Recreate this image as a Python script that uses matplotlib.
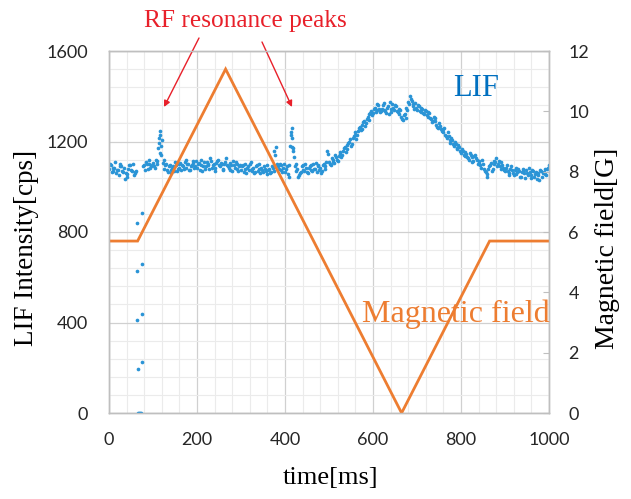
import numpy as np
import matplotlib
matplotlib.use("Agg")
import matplotlib.pyplot as plt
from matplotlib.ticker import MultipleLocator

nan = np.nan

# LIF intensity [cps], samples at 0, 4, 8 ... 1000 ms
lif_t = list(range(0, 1001, 4))
lif = [
    1080, 1095, 1070, 1085, 1060, 1075, 1100, 1090, 1065, 1035, 1055, 1080, 1095,
    1070, 1050, 1060, nan, nan, nan, nan, 1095, 1110, 1080, 1100, 1090,
    1105, 1085, 1115, 1170, 1245, 1205, 1120, 1095, 1075, 1090, 1060, 1085, 1070,
    1095, 1080, 1100, 1075, 1090, 1110, 1085, 1100, 1075, 1095, 1115, 1090,
    1085, 1105, 1095, 1070, 1110, 1090, 1100, 1080, 1115, 1095, 1085, 1105, 1120,
    1090, 1100, 1075, 1110, 1095, 1085, 1105, 1070, 1095, 1110, 1080, 1090,
    1075, 1095, 1080, 1060, 1090, 1100, 1070, 1085, 1065, 1095, 1080, 1060, 1075,
    1090, 1070, 1055, 1080, 1065, 1085, 1160, 1175, 1090, 1100, 1075, 1085,
    1065, 1090, 1045, 1180, 1260, 1130, 1100, 1080, 1050, 1065, 1095, 1070, 1085,
    1060, 1090, 1075, 1100, 1080, 1065, 1095, 1085, 1070, 1100, 1090, 1160,
    1110, 1095, 1120, 1105, 1130, 1115, 1145, 1130, 1160, 1175, 1165, 1195, 1210,
    1190, 1225, 1240, 1230, 1260, 1250, 1275, 1290, 1280, 1310, 1320, 1335,
    1325, 1350, 1340, 1360, 1330, 1345, 1370, 1335, 1350, 1320, 1345, 1365, 1340,
    1355, 1330, 1345, 1310, 1295, 1320, 1350, 1375, 1400, 1380, 1355, 1370,
    1340, 1355, 1330, 1345, 1320, 1335, 1310, 1325, 1300, 1290, 1305, 1275, 1260,
    1270, 1245, 1255, 1230, 1215, 1225, 1195, 1205, 1180, 1190, 1165, 1175,
    1150, 1160, 1135, 1145, 1125, 1150, 1130, 1115, 1140, 1120, 1105, 1095, 1120,
    1080, 1065, 1045, 1090, 1105, 1080, 1115, 1125, 1100, 1090, 1110, 1085,
    1070, 1095, 1060, 1080, 1075, 1050, 1085, 1065, 1070, 1045, 1080, 1060, 1075,
    1050, 1065, 1040, 1070, 1055, 1035, 1060, 1075, 1045, 1065, 1055, 1080, 1095,
]

# LIF intensity [cps], samples at 2, 6, 10 ... 998 ms
lif_t2 = list(range(2, 1000, 4))
lif2 = [
    1100, 1065, 1085, 1110, 1075, 1050, 1090, 1070, 1085, 1060, 1045, 1095, 1075,
    1100, 1065, 1070, nan, nan, nan, 1090, 1075, 1100, 1120, 1085, 1095,
    1090, 1120, 1100, 1215, 1180, 1105, 1080, 1100, 1065, 1095, 1075, 1090, 1110,
    1070, 1085, 1105, 1095, 1080, 1120, 1100, 1075, 1090, 1105, 1085, 1115,
    1100, 1075, 1120, 1090, 1080, 1110, 1095, 1125, 1085, 1100, 1070, 1115, 1095,
    1105, 1080, 1100, 1125, 1090, 1075, 1095, 1115, 1085, 1100, 1070, 1095,
    1090, 1065, 1100, 1085, 1075, 1110, 1080, 1060, 1090, 1070, 1100, 1085, 1065,
    1080, 1095, 1075, 1060, 1090, 1070, 1140, 1100, 1080, 1095, 1065, 1100,
    1080, 1055, 1095, 1230, 1170, 1090, 1070, 1045, 1060, 1090, 1075, 1100, 1065,
    1085, 1095, 1070, 1080, 1105, 1090, 1075, 1060, 1095, 1080, 1110, 1145,
    1100, 1125, 1110, 1140, 1120, 1135, 1155, 1140, 1170, 1155, 1185, 1200, 1180,
    1215, 1230, 1210, 1245, 1265, 1255, 1285, 1270, 1300, 1295, 1325, 1315,
    1345, 1330, 1365, 1345, 1335, 1360, 1340, 1325, 1355, 1375, 1330, 1350, 1360,
    1335, 1320, 1340, 1300, 1315, 1305, 1340, 1365, 1390, 1365, 1345, 1350,
    1360, 1335, 1350, 1325, 1340, 1315, 1330, 1305, 1285, 1310, 1290, 1265, 1280,
    1255, 1240, 1260, 1225, 1240, 1205, 1215, 1190, 1200, 1170, 1185, 1160,
    1165, 1140, 1155, 1130, 1120, 1140, 1110, 1135, 1125, 1100, 1115, 1085, 1100,
    1070, 1055, 1080, 1095, 1070, 1100, 1110, 1090, 1115, 1080, 1095, 1075,
    1085, 1070, 1050, 1090, 1060, 1075, 1055, 1080, 1045, 1065, 1070, 1040, 1060,
    1085, 1050, 1075, 1045, 1065, 1050, 1030, 1070, 1060, 1080, 1050, 1085,
]

# extra points on the two RF resonance peaks
rf_t = [113, 115, 117, 119, 413, 415, 417, 419]
rf_lif = [1195, 1230, 1150, 1140, 1240, 1215, 1175, 1160]

# signal dropout points around 70 ms
drop_t = [65, 68, 70, 73, 65, 74, 64, 75, 63, 75, 63, 76]
drop_lif = [0, 0, 0, 0, 196, 227, 411, 439, 629, 659, 841, 883]

# magnetic field [G]
field_t = [0, 65, 265, 665, 865, 1000]
field_g = [5.7, 5.7, 11.4, 0, 5.7, 5.7]

W, H = 631, 499
fig = plt.figure(figsize=(W / 100, H / 100), dpi=100)
ax = fig.add_axes([109 / W, 1 - 413 / H, 440 / W, 362 / H])
ax2 = ax.twinx()

blue = '#2a94d6'
orange = '#ed7d31'
red = '#e8202a'

for tt, vv in [(lif_t, lif), (lif_t2, lif2), (rf_t, rf_lif), (drop_t, drop_lif)]:
    ax.scatter(tt, vv, s=7, color=blue, linewidths=0, zorder=3)
ax2.plot(field_t, field_g, color=orange, lw=2, solid_joinstyle='miter')

ax.set_xlim(0, 1000)
ax.set_ylim(0, 1600)
ax2.set_ylim(0, 12)
ax.xaxis.set_major_locator(MultipleLocator(200))
ax.xaxis.set_minor_locator(MultipleLocator(40))
ax.yaxis.set_major_locator(MultipleLocator(400))
ax.yaxis.set_minor_locator(MultipleLocator(80))
ax2.yaxis.set_major_locator(MultipleLocator(2))

ax.grid(which='major', color='#d0d0d0', lw=0.9)
ax.grid(which='minor', color='#ebebeb', lw=0.8)
ax.set_axisbelow(True)

ax.tick_params(which='both', length=0)
ax.tick_params(axis='y', pad=15)
ax.tick_params(axis='x', pad=14)
ax2.tick_params(axis='y', direction='in', length=4, color='#bfbfbf', pad=14)
for lab in ax.get_xticklabels() + ax.get_yticklabels() + ax2.get_yticklabels():
    lab.set_fontfamily('Lato')
    lab.set_fontsize(13)
    lab.set_color('#262626')

for a in (ax, ax2):
    for sp in a.spines.values():
        sp.set_color('#bfbfbf')
        sp.set_linewidth(1)

serif = 'Liberation Serif'
fig.text(27 / W, 1 - 248 / H, 'LIF Intensity[cps]', rotation=90, ha='center', va='center',
         family=serif, fontsize=19.5)
fig.text(607 / W, 1 - 248 / H, 'Magnetic field[G]', rotation=90, ha='center', va='center',
         family=serif, fontsize=20)
fig.text(331 / W, 1 - 478 / H, 'time[ms]', ha='center', va='center', family=serif, fontsize=19)

fig.text(245 / W, 1 - 27 / H, 'RF resonance peaks', ha='center', va='baseline',
         family=serif, fontsize=18.3, color=red)
fig.text(453 / W, 1 - 96 / H, 'LIF', ha='left', va='baseline', family=serif, fontsize=22,
         color='#0070c0')
fig.text(362 / W, 1 - 322 / H, 'Magnetic field', ha='left', va='baseline', family=serif,
         fontsize=23, color=orange)

arrow = dict(arrowstyle='-|>', color=red, lw=1, mutation_scale=9, shrinkA=0, shrinkB=0)
ax.annotate('', xy=(164 / W, 1 - 107 / H), xytext=(199 / W, 1 - 38 / H),
            xycoords='figure fraction', textcoords='figure fraction', arrowprops=arrow)
ax.annotate('', xy=(292 / W, 1 - 107 / H), xytext=(262 / W, 1 - 42 / H),
            xycoords='figure fraction', textcoords='figure fraction', arrowprops=arrow)

fig.savefig('out.png', dpi=100)
